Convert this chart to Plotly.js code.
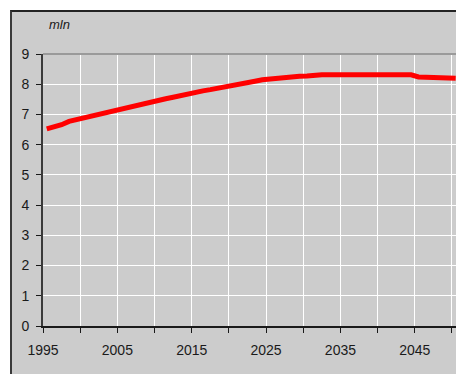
<!DOCTYPE html>
<html>
<head>
<meta charset="utf-8">
<script src="https://cdn.plot.ly/plotly-3.0.1.min.js"></script>
<style>
html,body{margin:0;padding:0;background:#ffffff;}
#panel{position:absolute;left:10px;top:10px;width:446px;height:364px;background:#cccccc;border-left:2px solid #3a3a3a;border-top:2px solid #222;box-sizing:border-box;}
#chart{position:absolute;left:0;top:0;width:456px;height:374px;}
</style>
</head>
<body>
<div id="panel"></div>
<div id="chart"></div>
<script>
// Population (mln), annual
const years = [1995,1996,1997,1998,1999,2000,2001,2002,2003,2004,2005,2006,2007,2008,2009,
  2010,2011,2012,2013,2014,2015,2016,2017,2018,2019,2020,2021,2022,2023,2024,
  2025,2026,2027,2028,2029,2030,2031,2032,2033,2034,2035,2036,2037,2038,2039,
  2040,2041,2042,2043,2044,2045,2046,2047,2048,2049,2050];
const population = [6.52,6.58,6.66,6.77,6.83,6.89,6.93,7.00,7.05,7.10,7.15,7.22,7.28,7.33,7.40,
  7.46,7.52,7.57,7.63,7.69,7.74,7.78,7.82,7.86,7.90,7.96,8.00,8.05,8.10,8.15,
  8.18,8.20,8.22,8.24,8.26,8.27,8.31,8.31,8.31,8.31,8.31,8.31,8.31,8.31,8.31,
  8.31,8.31,8.31,8.31,8.31,8.24,8.24,8.24,8.24,8.24,8.20];
const xTickVals = [1995,2000,2005,2010,2015,2020,2025,2030,2035,2040,2045,2050];
const xTickText = ['1995','','2005','','2015','','2025','','2035','','2045',''];
const yTickVals = [0,1,2,3,4,5,6,7,8,9];
const unitLabel = 'mln';

// points sit at the centre of each year's category
const xPos = years.map(y => y + 0.5);

const trace = {
  x: xPos, y: population, type: 'scatter', mode: 'lines',
  line: {color: '#ff0000', width: 5},
  hoverinfo: 'skip', cliponaxis: true
};

const layout = {
  width: 456, height: 374,
  margin: {l: 43, r: 0, t: 54, b: 48},
  paper_bgcolor: 'rgba(0,0,0,0)',
  plot_bgcolor: '#cccccc',
  showlegend: false,
  font: {family: '"Liberation Sans", Arial, sans-serif', size: 14, color: '#1a1a1a'},
  xaxis: {
    range: [1995, 2050.54], tickmode: 'array', tickvals: xTickVals, ticktext: xTickText,
    showgrid: true, gridcolor: '#ffffff', gridwidth: 1,
    showline: true, linecolor: '#1a1a1a', linewidth: 1.5,
    ticks: 'outside', ticklen: 5, tickcolor: '#1a1a1a', tickwidth: 1,
    zeroline: false, fixedrange: true, ticklabelstandoff: 6
  },
  yaxis: {
    range: [0, 9], tickmode: 'array', tickvals: yTickVals,
    showgrid: true, gridcolor: '#ffffff', gridwidth: 1,
    showline: true, linecolor: '#3a3a3a', linewidth: 2,
    ticks: 'outside', ticklen: 5, tickcolor: '#1a1a1a', tickwidth: 1,
    zeroline: false, fixedrange: true, ticklabelstandoff: 4
  },
  shapes: [
    {type: 'line', xref: 'paper', yref: 'paper', x0: 0, x1: 1, y0: 1, y1: 1,
     line: {color: '#9a9a9a', width: 2}}
  ],
  annotations: [
    {text: '<i>' + unitLabel + '</i>', xref: 'paper', yref: 'paper', x: 0.01, y: 1,
     xanchor: 'left', yanchor: 'bottom', yshift: 20, showarrow: false,
     font: {size: 13, color: '#1a1a1a'}}
  ]
};

Plotly.newPlot('chart', [trace], layout, {displayModeBar: false, staticPlot: true});
</script>
</body>
</html>
